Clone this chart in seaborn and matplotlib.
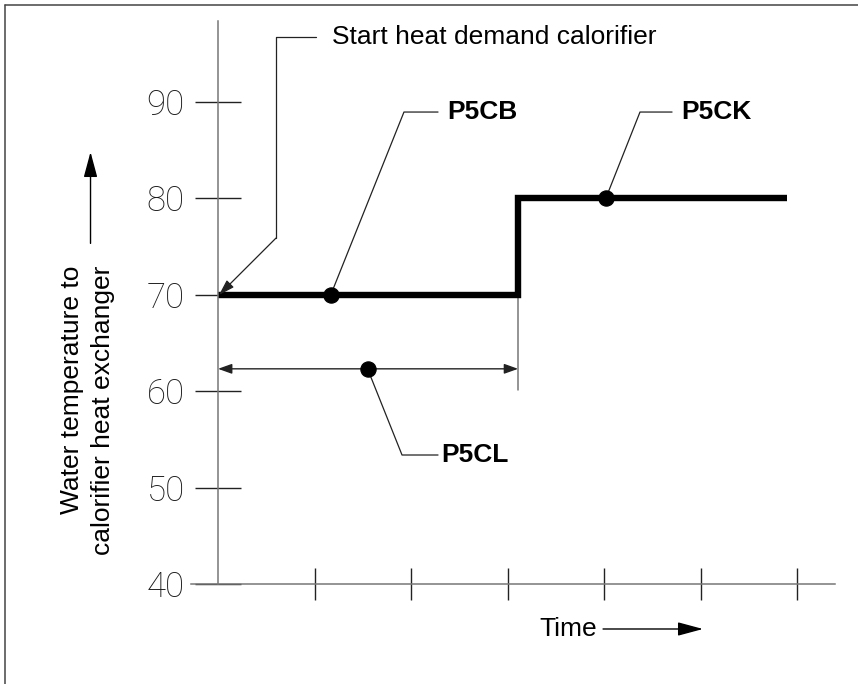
import matplotlib
matplotlib.use("Agg")
import matplotlib.pyplot as plt
from matplotlib.lines import Line2D
import seaborn as sns
import pandas as pd

# Setpoint profile: supply temperature to the calorifier heat exchanger
step_time = [0.0, 3.11, 5.9]
step_temp = [70, 80, 80]

# Reference points marked on the profile
point_names = ["P5CB", "P5CK", "P5CL"]
point_time = [1.17, 4.02, 1.55]
point_temp = [70, 80, 62.3]

y_ticks = [40, 50, 60, 70, 80, 90]
x_ticks = [1, 2, 3, 4, 5, 6]

sns.set_theme(style="white")
plt.rcParams["font.family"] = ["Liberation Sans", "DejaVu Sans"]

fig = plt.figure(figsize=(8.58, 6.84), dpi=100)
ax = fig.add_axes([0, 0, 1, 1])
ax.set_xlim(-2.259, 6.632)
ax.set_ylim(29.64, 100.52)
ax.patch.set_alpha(0)

# axes drawn as crossing lines, CAD style
for s in ("top", "right"):
    ax.spines[s].set_visible(False)
ax.spines["left"].set_position(("data", 0))
ax.spines["bottom"].set_position(("data", 40))
ax.spines["left"].set_bounds(40, 98.3)
ax.spines["bottom"].set_bounds(-0.28, 6.39)
for s in ("left", "bottom"):
    ax.spines[s].set_color("#777777")
    ax.spines[s].set_linewidth(1.1)

ax.set_yticks(y_ticks)
ax.set_yticklabels([str(v) for v in y_ticks])
ax.set_xticks(x_ticks)
ax.set_xticklabels([])
ax.tick_params(axis="y", direction="inout", length=33, width=1.0, color="#222222",
               pad=7.5, labelsize=25, labelcolor="#1a1a1a", left=True)
ax.tick_params(axis="x", direction="inout", length=23, width=1.0, color="#222222",
               bottom=True)
for lab in ax.get_yticklabels():
    lab.set_fontfamily(["Roboto", "DejaVu Sans"])
    lab.set_fontweight(100)

# step profile
df_step = pd.DataFrame({"time": step_time, "temp": step_temp})
sns.lineplot(data=df_step, x="time", y="temp", drawstyle="steps-post",
             color="black", linewidth=4.6, ax=ax, estimator=None, sort=False)
ax.lines[-1].set_solid_capstyle("butt")
ax.lines[-1].set_solid_joinstyle("miter")
ax.set_xlabel("")
ax.set_ylabel("")

# extension line at the step and the duration dimension
ax.plot([step_time[1], step_time[1]], [70, 60.1], color="#777777", lw=1.1, zorder=1)
ax.annotate("", xy=(0.0, point_temp[2]), xytext=(step_time[1], point_temp[2]),
            arrowprops=dict(arrowstyle="<|-|>,head_length=0.7,head_width=0.25",
                            color="#222222", lw=1.0, shrinkA=0, shrinkB=0))

# marker dots
df_pts = pd.DataFrame({"name": point_names, "time": point_time, "temp": point_temp})
sns.scatterplot(data=df_pts, x="time", y="temp", color="black", s=120,
                edgecolor="black", zorder=5, ax=ax, legend=False)
ax.set_xlabel("")
ax.set_ylabel("")

lead = dict(color="#222222", lw=0.9)
label_kw = dict(fontsize=19, fontweight="bold", va="center", ha="left", color="black")

# P5CB leader
ax.plot([point_time[0], 1.927, 2.280], [point_temp[0], 88.91, 88.91], **lead)
ax.text(2.373, 88.91, point_names[0], **label_kw)
# P5CK leader
ax.plot([point_time[1], 4.373, 4.705], [point_temp[1], 88.91, 88.91], **lead)
ax.text(4.798, 88.91, point_names[1], **label_kw)
# P5CL leader
ax.plot([point_time[2], 1.907, 2.280], [point_temp[2], 53.37, 53.37], **lead)
ax.text(2.311, 53.37, point_names[2], **label_kw)

# start of heat demand leader with arrow onto the profile start
ax.plot([1.016, 0.601, 0.601], [96.68, 96.68, 75.85], **lead)
ax.annotate("", xy=(0.01, 69.95), xytext=(0.601, 75.85),
            arrowprops=dict(arrowstyle="-|>,head_length=0.8,head_width=0.25",
                            color="#222222", lw=0.9, shrinkA=0, shrinkB=0))
ax.text(1.181, 96.68, "Start heat demand calorifier", fontsize=19,
        va="center", ha="left", color="black")

# y axis caption with upward arrow
ax.text(-1.508, 72.95, "Water temperature to", rotation=90, fontsize=19,
        ha="center", va="top", color="black")
ax.text(-1.187, 72.95, "calorifier heat exchanger", rotation=90, fontsize=19,
        ha="center", va="top", color="black")
ax.annotate("", xy=(-1.321, 84.77), xytext=(-1.321, 75.3),
            arrowprops=dict(arrowstyle="-|>,head_length=1.3,head_width=0.35",
                            color="black", lw=1.0, shrinkA=0, shrinkB=0))

# time caption with rightward arrow
ax.text(3.327, 35.34, "Time", fontsize=19, ha="left", va="center", color="black")
ax.annotate("", xy=(5.026, 35.34), xytext=(3.99, 35.34),
            arrowprops=dict(arrowstyle="-|>,head_length=1.3,head_width=0.35",
                            color="black", lw=1.0, shrinkA=0, shrinkB=0))

# drawing frame
fig.add_artist(Line2D([5 / 858, 5 / 858], [0, 1 - 5 / 684], color="#444444", lw=1.1,
                      transform=fig.transFigure))
fig.add_artist(Line2D([5 / 858, 1], [1 - 5 / 684, 1 - 5 / 684], color="#444444", lw=1.1,
                      transform=fig.transFigure))

fig.savefig("out.png", dpi=100)
